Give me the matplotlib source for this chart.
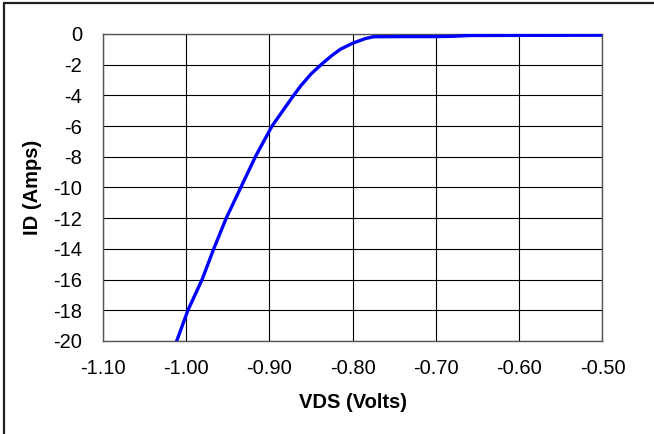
import matplotlib
matplotlib.use("Agg")
import matplotlib.pyplot as plt
from matplotlib.patches import Rectangle

# drain current vs drain-source voltage
vds = [-1.0115, -0.998, -0.981, -0.967, -0.952, -0.9345, -0.917, -0.897,
       -0.871, -0.862, -0.850, -0.836, -0.825, -0.815, -0.800, -0.785,
       -0.775, -0.74, -0.70, -0.68, -0.66, -0.60, -0.50]
i_d = [-20.0, -18.0, -16.0, -14.0, -12.0, -10.0, -8.0, -6.0,
       -4.0, -3.35, -2.6, -1.9, -1.4, -1.0, -0.6, -0.3,
       -0.18, -0.17, -0.17, -0.15, -0.10, -0.09, -0.08]

x_ticks = [-1.10, -1.00, -0.90, -0.80, -0.70, -0.60, -0.50]
y_ticks = list(range(-20, 1, 2))

plt.rcParams['font.family'] = ['Liberation Sans', 'DejaVu Sans']
plt.rcParams['axes.unicode_minus'] = False

fig = plt.figure(figsize=(6.54, 4.34), dpi=100)
ax = fig.add_axes([0.1575, 0.2143, 0.7637, 0.7074])

ax.plot(vds, i_d, color='#0000ff', linewidth=2.4, zorder=3)

ax.set_xlim(-1.10, -0.50)
ax.set_ylim(-20, 0)
ax.set_xticks(x_ticks)
ax.set_xticklabels(["%.2f" % v for v in x_ticks])
ax.set_yticks(y_ticks)
ax.grid(True, color='black', linewidth=0.8)
ax.tick_params(length=0, labelsize=14.5)
ax.tick_params(axis='x', pad=13)
ax.tick_params(axis='y', pad=15)
for s in ax.spines.values():
    s.set_color('#555555')
    s.set_linewidth(1.0)

ax.set_xlabel("VDS (Volts)", fontsize=14.5, fontweight='bold', labelpad=11)
ax.set_ylabel("ID (Amps)", fontsize=14.5, fontweight='bold', labelpad=8)

# outer frame, right and bottom edges run off the image
fig.patches.append(Rectangle((0.006, -0.1), 1.2, 1.092, transform=fig.transFigure,
                             fill=False, edgecolor='#222222', linewidth=1.6))

plt.savefig('out.png', dpi=100)
